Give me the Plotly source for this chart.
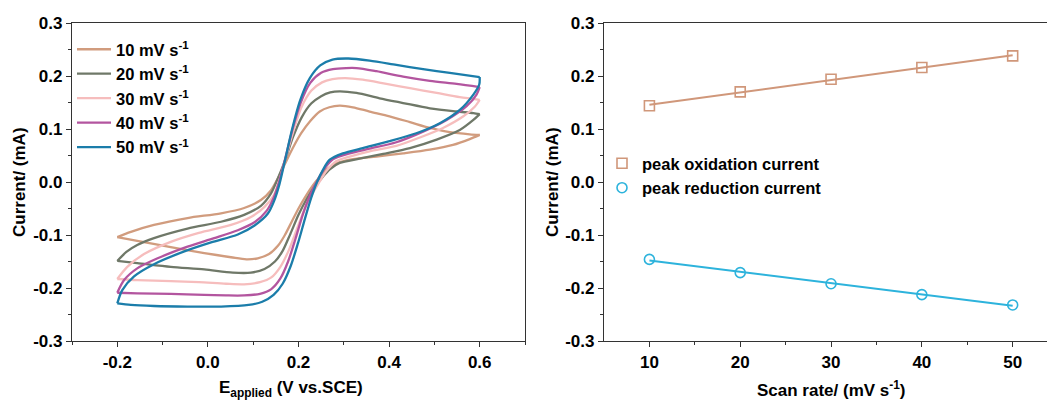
import numpy as np
import plotly.graph_objects as go

FONT = "Liberation Sans, Arial, sans-serif"

# ---- cyclic voltammograms (potential in V vs. SCE, current in mA) ----
# each list runs -0.2 V -> 0.6 V (forward scan) and back to -0.2 V
E_10 = [-0.200, -0.170, -0.119, -0.045, 0.029, 0.080, 0.117, 0.139, 0.154, 0.170,
        0.188, 0.206, 0.226, 0.247, 0.268, 0.291, 0.320, 0.357, 0.401, 0.446,
        0.490, 0.534, 0.578, 0.600,
        0.578, 0.541, 0.490, 0.431, 0.372, 0.320, 0.283, 0.262, 0.247, 0.232,
        0.215, 0.200, 0.185, 0.170, 0.155, 0.135, 0.110, 0.085, 0.051, -0.008,
        -0.082, -0.156, -0.200]
I_10 = [-0.104, -0.094, -0.081, -0.068, -0.059, -0.049, -0.034, -0.016, 0.006, 0.034,
        0.065, 0.092, 0.115, 0.133, 0.141, 0.144, 0.141, 0.133, 0.124, 0.113,
        0.102, 0.094, 0.090, 0.089,
        0.081, 0.070, 0.061, 0.054, 0.048, 0.043, 0.035, 0.024, 0.010, -0.006,
        -0.028, -0.050, -0.075, -0.100, -0.120, -0.136, -0.144, -0.146, -0.142, -0.134,
        -0.123, -0.111, -0.104]

E_20 = [-0.200, -0.180, -0.156, -0.119, -0.045, 0.029, 0.080, 0.117, 0.139, 0.153,
        0.170, 0.188, 0.207, 0.228, 0.250, 0.270, 0.291, 0.328, 0.379, 0.431,
        0.490, 0.549, 0.586, 0.600,
        0.586, 0.556, 0.505, 0.446, 0.387, 0.335, 0.291, 0.269, 0.254, 0.236,
        0.218, 0.200, 0.182, 0.165, 0.148, 0.125, 0.095, 0.055, -0.008, -0.082,
        -0.156, -0.200]
I_20 = [-0.149, -0.132, -0.119, -0.106, -0.088, -0.075, -0.062, -0.045, -0.022, 0.004,
        0.040, 0.085, 0.122, 0.148, 0.162, 0.169, 0.171, 0.168, 0.158, 0.149,
        0.139, 0.133, 0.130, 0.128,
        0.117, 0.098, 0.080, 0.064, 0.053, 0.044, 0.036, 0.024, 0.010, -0.008,
        -0.032, -0.062, -0.098, -0.130, -0.150, -0.164, -0.171, -0.171, -0.165, -0.160,
        -0.153, -0.149]

E_30 = [-0.200, -0.178, -0.141, -0.082, -0.020, 0.051, 0.095, 0.125, 0.146, 0.158,
        0.170, 0.188, 0.206, 0.228, 0.252, 0.275, 0.303, 0.342, 0.394, 0.446,
        0.505, 0.556, 0.600,
        0.589, 0.564, 0.519, 0.468, 0.416, 0.357, 0.313, 0.283, 0.261, 0.247,
        0.232, 0.214, 0.196, 0.178, 0.160, 0.140, 0.115, 0.080, 0.040, -0.020,
        -0.082, -0.156, -0.200]
I_30 = [-0.183, -0.160, -0.136, -0.113, -0.096, -0.081, -0.066, -0.047, -0.024, 0.004,
        0.040, 0.094, 0.140, 0.172, 0.188, 0.194, 0.196, 0.193, 0.185, 0.177,
        0.168, 0.160, 0.155,
        0.142, 0.124, 0.102, 0.084, 0.068, 0.058, 0.048, 0.039, 0.020, 0.001,
        -0.020, -0.050, -0.090, -0.130, -0.160, -0.180, -0.189, -0.193, -0.192, -0.189,
        -0.187, -0.185, -0.183]

E_40 = [-0.200, -0.185, -0.156, -0.111, -0.045, 0.014, 0.066, 0.103, 0.130, 0.145,
        0.157, 0.170, 0.187, 0.205, 0.226, 0.250, 0.276, 0.305, 0.328, 0.372,
        0.431, 0.490, 0.549, 0.600,
        0.593, 0.571, 0.527, 0.475, 0.416, 0.357, 0.313, 0.276, 0.258, 0.243,
        0.226, 0.210, 0.193, 0.177, 0.160, 0.140, 0.115, 0.080, 0.040, -0.008,
        -0.082, -0.156, -0.200]
I_40 = [-0.209, -0.185, -0.163, -0.144, -0.122, -0.106, -0.091, -0.076, -0.054, -0.030,
        0.000, 0.042, 0.100, 0.150, 0.187, 0.206, 0.213, 0.215, 0.215, 0.209,
        0.199, 0.191, 0.185, 0.179,
        0.165, 0.143, 0.117, 0.095, 0.075, 0.063, 0.054, 0.043, 0.026, 0.005,
        -0.024, -0.060, -0.108, -0.150, -0.182, -0.202, -0.211, -0.214, -0.214, -0.213,
        -0.211, -0.210, -0.209]

E_50 = [-0.200, -0.189, -0.163, -0.119, -0.052, 0.007, 0.066, 0.103, 0.132, 0.146,
        0.158, 0.170, 0.186, 0.204, 0.225, 0.248, 0.275, 0.310, 0.357, 0.416,
        0.475, 0.534, 0.600,
        0.599, 0.586, 0.556, 0.512, 0.460, 0.401, 0.342, 0.298, 0.269, 0.254,
        0.241, 0.228, 0.214, 0.199, 0.183, 0.165, 0.145, 0.120, 0.090, 0.029,
        -0.045, -0.119, -0.170, -0.200]
I_50 = [-0.229, -0.204, -0.178, -0.155, -0.131, -0.114, -0.099, -0.082, -0.060, -0.036,
        -0.004, 0.040, 0.100, 0.155, 0.196, 0.220, 0.231, 0.233, 0.229, 0.221,
        0.213, 0.206, 0.198,
        0.184, 0.165, 0.136, 0.111, 0.092, 0.077, 0.064, 0.054, 0.042, 0.023,
        0.000, -0.030, -0.070, -0.115, -0.158, -0.192, -0.213, -0.226, -0.232, -0.235,
        -0.235, -0.234, -0.232, -0.229]

cv_labels = ["10 mV s<sup>-1</sup>", "20 mV s<sup>-1</sup>", "30 mV s<sup>-1</sup>",
             "40 mV s<sup>-1</sup>", "50 mV s<sup>-1</sup>"]
cv_colors = ["#D19C7E", "#6F7868", "#F6BDBD", "#B3559F", "#1B7DAA"]
cv_E = [E_10, E_20, E_30, E_40, E_50]
cv_I = [I_10, I_20, I_30, I_40, I_50]

# ---- peak currents vs. scan rate ----
scan_rate = [10, 20, 30, 40, 50]
peak_ox = [0.144, 0.170, 0.194, 0.216, 0.238]
peak_red = [-0.146, -0.171, -0.192, -0.2125, -0.232]
ox_color = "#D0977A"
red_color = "#2DB3DC"

fig = go.Figure()

for E, I, lab, col in zip(cv_E, cv_I, cv_labels, cv_colors):
    turn = E.index(max(E))  # switching potential: forward / reverse scan
    for part, (xs, ys) in enumerate(((E[:turn + 1], I[:turn + 1]),
                                     (E[turn:], I[turn:]))):
        fig.add_trace(go.Scatter(
            x=xs, y=ys, mode="lines", name=lab, legendgroup=lab,
            showlegend=(part == 0),
            line=dict(color=col, width=2.3, shape="spline", smoothing=0.8),
            xaxis="x", yaxis="y", legend="legend"))

# linear fits through the peak currents
fit_x = [scan_rate[0], scan_rate[-1]]
for vals, col in ((peak_ox, ox_color), (peak_red, red_color)):
    p = np.polyfit(scan_rate, vals, 1)
    fig.add_trace(go.Scatter(
        x=fit_x, y=np.polyval(p, fit_x).tolist(), mode="lines",
        line=dict(color=col, width=2), showlegend=False,
        xaxis="x2", yaxis="y2"))

fig.add_trace(go.Scatter(
    x=scan_rate, y=peak_ox, mode="markers", name="peak oxidation current",
    marker=dict(symbol="square-open", size=10, color=ox_color, line=dict(width=1.6)),
    xaxis="x2", yaxis="y2", legend="legend2"))
fig.add_trace(go.Scatter(
    x=scan_rate, y=peak_red, mode="markers", name="peak reduction current",
    marker=dict(symbol="circle-open", size=10, color=red_color, line=dict(width=1.6)),
    xaxis="x2", yaxis="y2", legend="legend2"))

tick_font = dict(family=FONT, size=17, color="black", weight="bold")
title_font = dict(family=FONT, size=17, color="black", weight="bold")

axis_common = dict(showline=True, linecolor="#333333", linewidth=1.3,
                   ticks="outside", ticklen=5, tickwidth=1.2, tickcolor="#333333",
                   showgrid=False, zeroline=False, mirror=True, tickfont=tick_font)
minor_common = dict(ticks="outside", ticklen=3, tickwidth=1, tickcolor="#333333",
                    showgrid=False)

y_major = [-0.3, -0.2, -0.1, 0.0, 0.1, 0.2, 0.3]
y_text = ["-0.3", "-0.2", "-0.1", "0.0", "0.1", "0.2", "0.3"]
y_minor = [-0.25, -0.15, -0.05, 0.05, 0.15, 0.25]

x1_major = [-0.2, 0.0, 0.2, 0.4, 0.6]
x1_text = ["-0.2", "0.0", "0.2", "0.4", "0.6"]
x1_minor = [-0.3, -0.1, 0.1, 0.3, 0.5, 0.7]

x2_major = [10, 20, 30, 40, 50]
x2_minor = [15, 25, 35, 45]

W, H = 1047, 401
M_TOP, M_BOT = 23, 60
plot_h = H - M_TOP - M_BOT


def py(px):
    """Vertical paper coordinate for a pixel row."""
    return (H - M_BOT - px) / plot_h


fig.update_layout(
    width=W, height=H,
    margin=dict(l=0, r=0, t=M_TOP, b=M_BOT, pad=0),
    paper_bgcolor="white", plot_bgcolor="white",
    xaxis=dict(axis_common, domain=[72 / W, 525 / W], range=[-0.3, 0.7],
               tickmode="array", tickvals=x1_major, ticktext=x1_text,
               minor=dict(minor_common, tickmode="array", tickvals=x1_minor),
               anchor="y"),
    yaxis=dict(axis_common, domain=[0, 1], range=[-0.3, 0.3],
               tickmode="array", tickvals=y_major, ticktext=y_text,
               minor=dict(minor_common, tickmode="array", tickvals=y_minor),
               anchor="x"),
    xaxis2=dict(axis_common, domain=[604 / W, 1.0], range=[5, 53.78],
                tickmode="array", tickvals=x2_major,
                minor=dict(minor_common, tickmode="array", tickvals=x2_minor),
                anchor="y2"),
    yaxis2=dict(axis_common, domain=[0, 1], range=[-0.3, 0.3], mirror=False,
                tickmode="array", tickvals=y_major, ticktext=y_text,
                minor=dict(minor_common, tickmode="array", tickvals=y_minor),
                anchor="x2"),
    legend=dict(x=72 / W, y=py(32), xanchor="left", yanchor="top",
                bgcolor="rgba(0,0,0,0)", borderwidth=0, itemwidth=34,
                font=dict(family=FONT, size=16.5, color="black", weight="bold"),
                tracegroupgap=0),
    legend2=dict(x=602 / W, y=py(146), xanchor="left", yanchor="top",
                 bgcolor="rgba(0,0,0,0)", borderwidth=0, itemwidth=30,
                 font=dict(family=FONT, size=16.5, color="black", weight="bold"),
                 tracegroupgap=0),
    annotations=[
        dict(text="E<sub>applied</sub> (V vs.SCE)", x=291 / W, y=py(389),
             xref="paper", yref="paper", xanchor="center", yanchor="middle",
             showarrow=False, font=title_font),
        dict(text="Scan rate/ (mV s<sup>-1</sup>)", x=831 / W, y=py(389),
             xref="paper", yref="paper", xanchor="center", yanchor="middle",
             showarrow=False, font=title_font),
        dict(text="Current/ (mA)", x=19 / W, y=0.5, textangle=-90,
             xref="paper", yref="paper", xanchor="center", yanchor="middle",
             showarrow=False, font=title_font),
        dict(text="Current/ (mA)", x=552 / W, y=0.5, textangle=-90,
             xref="paper", yref="paper", xanchor="center", yanchor="middle",
             showarrow=False, font=title_font),
    ],
)

fig.write_html("out.html")
